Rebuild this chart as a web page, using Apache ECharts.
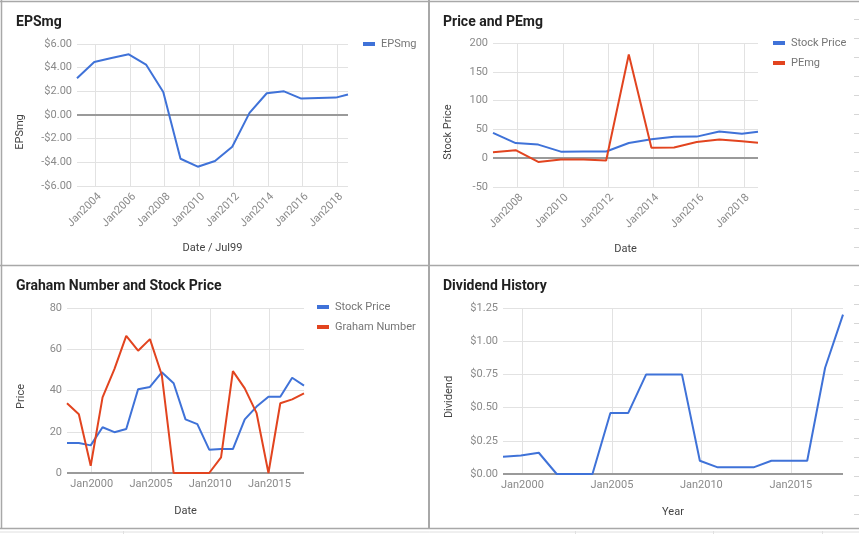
<!DOCTYPE html>
<html><head><meta charset="utf-8">
<script src="https://cdn.jsdelivr.net/npm/echarts@6/dist/echarts.min.js"></script>
<style>html,body{margin:0;padding:0;background:#fff}#c{width:859px;height:534px}</style>
</head><body><div id="c"></div>
<script>
// ---- Panel 1: EPSmg ----
const epsDates = ['2002-12-01','2003-12-01','2004-12-01','2005-12-01','2006-12-01','2007-12-01','2008-12-01','2009-12-01','2010-12-01','2011-12-01','2012-12-01','2013-12-01','2014-12-01','2015-12-01','2016-12-01','2017-12-01','2018-08-17'];
const epsValues = [3.1, 4.48, 4.82, 5.13, 4.26, 1.95, -3.7, -4.37, -3.89, -2.68, 0.18, 1.84, 2.0, 1.39, 1.43, 1.47, 1.73];
const epsTicks = [2004, 2006, 2008, 2010, 2012, 2014, 2016, 2018];
const epsYTicks = [-6, -4, -2, 0, 2, 4, 6];

// ---- Panel 2: Price and PEmg ----
const peDates = ['2006-12-01','2007-12-01','2008-12-01','2009-12-01','2010-12-01','2011-12-01','2012-12-01','2013-12-01','2014-12-01','2015-12-01','2016-12-01','2017-12-01','2018-08-17'];
const pePrice = [44, 26.3, 23.6, 11.4, 11.7, 11.7, 26.3, 32.8, 37.3, 37.5, 46.5, 42.4, 45.8];
const peValues = [10.5, 14, -6.4, -2.3, -2.3, -4, 180, 18, 18.6, 28, 32.5, 29.6, 26.7];
const peTicks = [2008, 2010, 2012, 2014, 2016, 2018];
const peYTicks = [-50, 0, 50, 100, 150, 200];

// ---- Panel 3: Graham Number and Stock Price ----
const grDates = ['1997-12-01','1998-12-01','1999-12-01','2000-12-01','2001-12-01','2002-12-01','2003-12-01','2004-12-01','2005-12-01','2006-12-01','2007-12-01','2008-12-01','2009-12-01','2010-12-01','2011-12-01','2012-12-01','2013-12-01','2014-12-01','2015-12-01','2016-12-01','2017-12-01'];
const grPrice = [14.5, 14.5, 13.4, 22.2, 19.8, 21.3, 40.6, 41.7, 48.8, 43.5, 26, 23.7, 11.3, 11.6, 11.6, 26, 32.2, 37, 37, 46.2, 42.4];
const grGraham = [33.8, 28.5, 3.5, 36.7, 50.4, 66.5, 59.3, 64.9, 47.5, 0, 0, 0, 0, 7.6, 49.4, 41, 29, 0, 33.8, 35.7, 38.6];
const grTicks = [2000, 2005, 2010, 2015];
const grYTicks = [0, 20, 40, 60, 80];

// ---- Panel 4: Dividend History ----
const divDates = ['1998-12-01','1999-12-01','2000-12-01','2001-12-01','2002-12-01','2003-12-01','2004-12-01','2005-12-01','2006-12-01','2007-12-01','2008-12-01','2009-12-01','2010-12-01','2011-12-01','2012-12-01','2013-12-01','2014-12-01','2015-12-01','2016-12-01','2017-12-01'];
const divValues = [0.13, 0.14, 0.16, 0, 0, 0, 0.46, 0.46, 0.75, 0.75, 0.75, 0.10, 0.05, 0.05, 0.05, 0.10, 0.10, 0.10, 0.80, 1.20];
const divTicks = [2000, 2005, 2010, 2015];
const divYTicks = [0, 0.25, 0.5, 0.75, 1.0, 1.25];

const BLUE = '#3f72d8', RED = '#e2441f';
const FONT = 'Roboto, Arial, sans-serif';

function yearFrac(s) {
  const d = new Date(s + 'T00:00:00Z');
  const y = d.getUTCFullYear();
  const a = Date.UTC(y, 0, 1), b = Date.UTC(y + 1, 0, 1);
  return y + (d.getTime() - a) / (b - a);
}
function pairs(dates, vals) { return dates.map((d, i) => [yearFrac(d), vals[i]]); }

function xAx(gi, dates, ticks, rotate, name, nameGap) {
  const lbl = { customValues: ticks, rotate: rotate, margin: rotate ? 5 : 6, fontFamily: FONT, fontSize: 11, color: '#8a8a8a',
    formatter: v => 'Jan' + Math.round(v) };
  if (rotate) lbl.verticalAlign = 'top';
  return {
    type: 'value', gridIndex: gi,
    min: yearFrac(dates[0]), max: yearFrac(dates[dates.length - 1]),
    name: name, nameLocation: 'middle', nameGap: nameGap,
    nameTextStyle: { fontFamily: FONT, fontSize: 11, color: '#444' },
    axisLine: { show: false },
    axisTick: { show: false, customValues: ticks },
    axisLabel: lbl,
    splitLine: { show: true, lineStyle: { color: '#e2e2e2', width: 1 } }
  };
}
function yAx(gi, ticks, fmt, name, nameGap, shift) {
  return {
    type: 'value', gridIndex: gi,
    min: ticks[0], max: ticks[ticks.length - 1], interval: ticks[1] - ticks[0],
    name: name, nameLocation: 'middle', nameGap: nameGap,
    nameTextStyle: { fontFamily: FONT, fontSize: 11, color: '#444', padding: [0, shift * 2, 0, 0] },
    axisLine: { show: false }, axisTick: { show: false },
    axisLabel: { margin: 5, fontFamily: FONT, fontSize: 11, color: '#8a8a8a', formatter: fmt },
    splitLine: { show: true, lineStyle: { color: '#e2e2e2', width: 1 } }
  };
}
const money = v => (v < 0 ? '-$' : '$') + Math.abs(v).toFixed(2);
const plain = v => String(v);

function baseLine() {
  return { silent: true, symbol: 'none', animation: false, z: 1, label: { show: false },
    lineStyle: { color: '#9a9a9a', width: 2, type: 'solid' }, data: [{ yAxis: 0 }] };
}
function lineSeries(name, gi, data, color, base) {
  const s = { name: name, type: 'line', xAxisIndex: gi, yAxisIndex: gi, data: data, showSymbol: false,
    smooth: false, lineStyle: { color: color, width: 2 }, itemStyle: { color: color }, z: 3, animation: false };
  if (base) s.markLine = baseLine();
  return s;
}
function legend(data, left, top) {
  return { data: data, left: left, top: top, orient: 'vertical', icon: 'rect', itemWidth: 12, itemHeight: 4,
    itemGap: 6, padding: 0, selectedMode: false,
    textStyle: { fontFamily: FONT, fontSize: 11, color: '#757575', lineHeight: 14, padding: [0, 0, 0, 1] } };
}
function title(text, left, top) {
  return { text: text, left: left, top: top, padding: 0,
    textStyle: { fontFamily: FONT, fontSize: 14, fontWeight: 'bold', color: '#212121' } };
}

// frame decoration (spreadsheet borders)
const frame = [];
function hline(y, x1, x2, c, w) { frame.push({ type: 'line', silent: true, shape: { x1: x1, y1: y, x2: x2, y2: y }, style: { stroke: c, lineWidth: w } }); }
function vline(x, y1, y2, c, w) { frame.push({ type: 'line', silent: true, shape: { x1: x, y1: y1, x2: x, y2: y2 }, style: { stroke: c, lineWidth: w } }); }
hline(1.5, 0, 859, '#a8a8a8', 1.5);
vline(1.5, 0, 529, '#a8a8a8', 1.5);
vline(429, 0, 529, '#a8a8a8', 2);
hline(265.5, 0, 859, '#a8a8a8', 1.5);
hline(528.5, 0, 859, '#a8a8a8', 1.5);
hline(532, 0, 859, '#e0e0e0', 1);
for (let k = 0; k < 27; k++) { const y = 18.5 + k * 19.05; if (Math.abs(y - 265) > 4 && y < 527) hline(Math.round(y) + 0.5, 854, 859, '#d6d6d6', 1); }
[123, 575, 713, 822].forEach(x => vline(x + 0.5, 531, 534, '#e0e0e0', 1));

const option = {
  backgroundColor: '#fff',
  animation: false,
  textStyle: { fontFamily: FONT },
  title: [
    title('EPSmg', 16, 15),
    title('Price and PEmg', 443, 15),
    title('Graham Number and Stock Price', 16, 279),
    title('Dividend History', 443, 279)
  ],
  legend: [
    legend(['EPSmg'], 363, 37),
    legend(['Stock Price', 'PEmg'], 773, 36),
    legend(['Stock Price', 'Graham Number'], 317, 300)
  ],
  grid: [
    { left: 77, top: 44, width: 271, height: 142 },
    { left: 493, top: 43, width: 265, height: 144 },
    { left: 67, top: 308, width: 237, height: 165 },
    { left: 503, top: 308, width: 340, height: 166 }
  ],
  xAxis: [
    xAx(0, epsDates, epsTicks, 45, 'Date / Jul99', 57),
    xAx(1, peDates, peTicks, 45, 'Date', 57),
    xAx(2, grDates, grTicks, 0, 'Date', 33),
    xAx(3, divDates, divTicks, 0, 'Year', 33)
  ],
  yAxis: [
    yAx(0, epsYTicks, money, 'EPSmg', 51, 17),
    yAx(1, peYTicks, plain, 'Stock Price', 39, 17),
    yAx(2, grYTicks, plain, 'Price', 40, 6),
    yAx(3, divYTicks, money, 'Dividend', 48, 6)
  ],
  series: [
    lineSeries('EPSmg', 0, pairs(epsDates, epsValues), BLUE, true),
    lineSeries('Stock Price', 1, pairs(peDates, pePrice), BLUE, true),
    lineSeries('PEmg', 1, pairs(peDates, peValues), RED, false),
    lineSeries('Stock Price', 2, pairs(grDates, grPrice), BLUE, true),
    lineSeries('Graham Number', 2, pairs(grDates, grGraham), RED, false),
    lineSeries('Dividend', 3, pairs(divDates, divValues), BLUE, true)
  ],
  graphic: frame
};
const chart = echarts.init(document.getElementById('c'), null, { renderer: 'canvas' });
chart.setOption(option);
</script>
</body></html>
